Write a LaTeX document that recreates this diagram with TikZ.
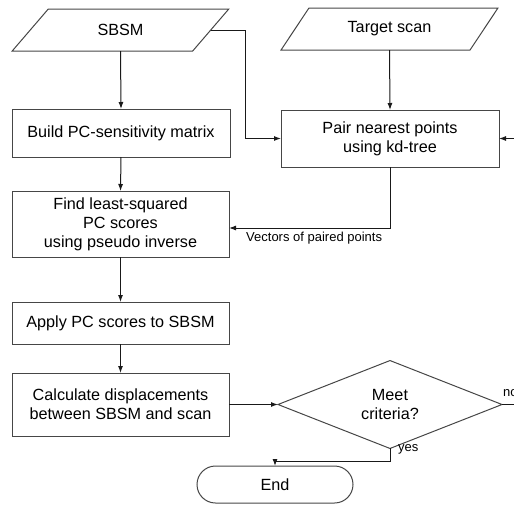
\documentclass[tikz,border=0pt]{standalone}
\usepackage{fontspec}
\setmainfont{Liberation Sans}
\usetikzlibrary{shapes.geometric,shapes.misc,arrows.meta}
\definecolor{boxline}{RGB}{70,70,70}
\definecolor{conline}{RGB}{25,25,25}
\tikzset{
  boxtxt/.style={font=\fontsize{16.2}{19}\selectfont},
  smalltxt/.style={font=\fontsize{13}{15}\selectfont, inner sep=0pt},
  procbox/.style={boxtxt, draw=boxline, line width=1pt, rectangle, align=center, inner sep=0pt, outer sep=0pt, minimum width=217pt},
  iobox/.style={boxtxt, draw=boxline, line width=1pt, trapezium, trapezium left angle=45, trapezium right angle=135, trapezium stretches=true, minimum width=217pt, minimum height=42pt, inner sep=0pt, outer sep=0pt},
  decbox/.style={boxtxt, draw=boxline, line width=1pt, diamond, align=center, minimum width=224pt, minimum height=73pt, inner sep=0pt, outer sep=0pt},
  termbox/.style={boxtxt, draw=boxline, line width=1pt, rounded rectangle, minimum width=156pt, minimum height=37pt, inner sep=0pt, outer sep=0pt},
  conn/.style={draw=conline, line width=1pt},
  arr/.style={conn, -{Latex[length=7pt,width=5pt]}}
}
\begin{document}
\begin{tikzpicture}[x=1pt,y=-1pt]
\useasboundingbox (0,0) rectangle (514,504);
\node[iobox] (sbsm) at (120.5,30) {SBSM};
\node[iobox] (target) at (389.5,29) {Target scan};
\node[procbox, minimum height=48pt, minimum width=218pt] (build) at (121,133) {Build PC-sensitivity matrix};
\node[procbox, minimum height=57pt, minimum width=218pt] (pair) at (390,138.5) {Pair nearest points\\using kd-tree};
\node[procbox, minimum height=66pt] (find) at (120.5,224) {Find least-squared\\PC scores\\using pseudo inverse};
\node[procbox, minimum height=42pt] (apply) at (120.5,323) {Apply PC scores to SBSM};
\node[procbox, minimum height=63pt] (calc) at (120.5,404.5) {Calculate displacements\\between SBSM and scan};
\node[decbox] (crit) at (390,404.5) {Meet\\criteria?};
\node[termbox] (end) at (275,484.5) {End};
\coordinate (sbend) at (245,30);
\coordinate (loopin) at (514,138.5);
\coordinate (loopout) at (514,404.5);
\draw[arr] (sbsm.south) -- (build.north);
\draw[arr] (sbsm.right side) -- (sbend) |- (pair.west);
\draw[arr] (target.south) -- (pair.north);
\draw[arr] (loopin) -- (pair.east);
\draw[arr] (pair.south) |- ([yshift=-4pt]find.east);
\node[smalltxt, anchor=west] (veclbl) at (246,238) {Vectors of paired points};
\draw[arr] (build.south) -- (find.north);
\draw[arr] (find.south) -- (apply.north);
\draw[arr] (apply.south) -- (calc.north);
\draw[arr] (calc.east) -- (crit.west);
\draw[conn] (crit.east) -- (loopout);
\node[smalltxt, anchor=west] (nolbl) at (503,393) {no};
\draw[arr] (crit.south) -- ++(0,13) -| (end.north);
\node[smalltxt, anchor=west] (yeslbl) at (398,449) {yes};
\end{tikzpicture}
\end{document}
